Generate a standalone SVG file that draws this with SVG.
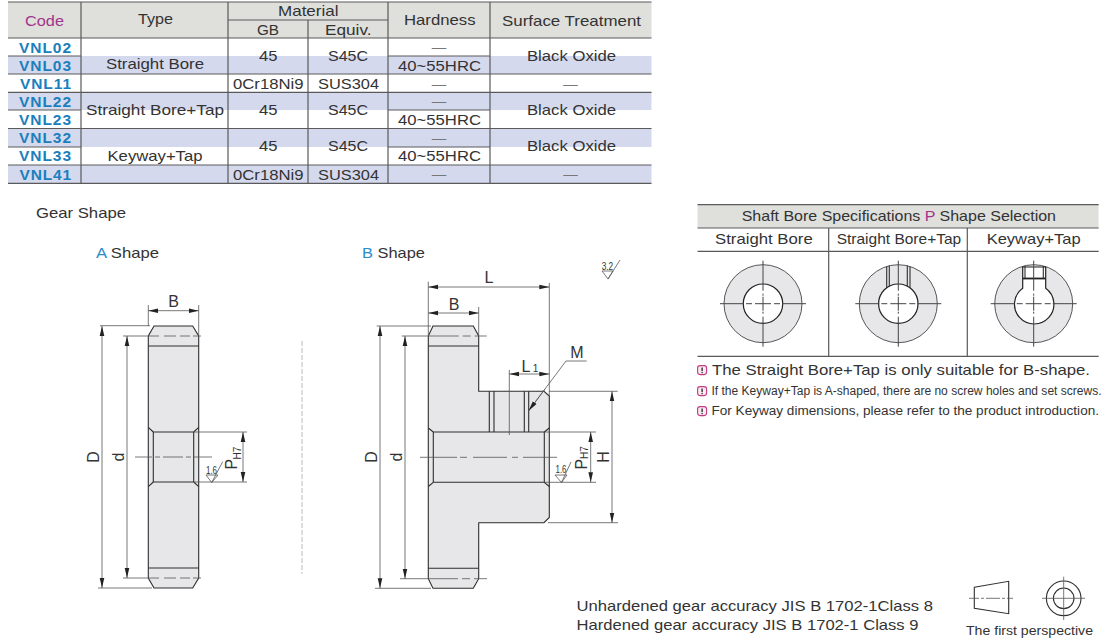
<svg xmlns="http://www.w3.org/2000/svg" xmlns:xlink="http://www.w3.org/1999/xlink" width="1110" height="640" viewBox="0 0 1110 640">
<style>
text{font-family:"Liberation Sans",Arial,sans-serif;fill:#333;font-size:14.5px}
.c{text-anchor:middle}
.code{font-weight:bold;fill:#1a80bd;font-size:15.5px}
.pur{fill:#a2348a}
.blue{fill:#2a8ccc}
.tl{stroke:#5a5a5a;stroke-width:1.2;fill:none}
.body{fill:#e7e7e9;stroke:#2e2e2e;stroke-width:1.1}
.e{stroke:#2e2e2e;stroke-width:1.1;fill:none}
.thin{stroke:#555;stroke-width:.8;fill:none}
.dim{stroke:#555;stroke-width:.8;fill:none;marker-start:url(#ar);marker-end:url(#ar)}
.dim1{stroke:#555;stroke-width:.8;fill:none;marker-end:url(#ar)}
.big{font-size:16px;fill:#333}
.small{font-size:10px;fill:#333}
.ring{fill:#e7e7e9;stroke:#444;stroke-width:.9}
.bore{fill:#fff;stroke:#222;stroke-width:1.2}
</style>
<defs>
<marker id="ar" markerUnits="userSpaceOnUse" markerWidth="11" markerHeight="6" refX="10" refY="3" orient="auto-start-reverse"><path d="M0,.7 L10,3 L0,5.300 Z" fill="#222"/></marker>
<g id="cross"><path class="thin" stroke-width="1" style="stroke:#444;stroke-width:1" d="M-43,0H-19M-17,0H-11M-8,0H8M11,0H17M19,0H43M0,-43V-13M0,-10V-8M0,-7V7M0,8V10M0,13V43"/></g>
<g id="warn"><rect x="0.6" y="0.6" width="9" height="9" rx="2.5" fill="#fbe9f2" stroke="#c23a82" stroke-width="1.1"/><path d="M5.100,2.400V6" stroke="#333" stroke-width="1.400"/><circle cx="5.100" cy="7.600" r=".8" fill="#333"/></g>
</defs>

<g id="spec-table">
<rect x="8" y="2" width="643.500" height="36" fill="#dfdfdc"/>
<g fill="#d5d9ee"><rect x="8" y="56" width="643.500" height="18"/><rect x="8" y="92" width="643.500" height="18"/><rect x="8" y="128.500" width="643.500" height="18.500"/><rect x="8" y="165" width="643.500" height="18"/></g>
<path class="tl" d="M8,2H651.500M228,20H388M8,38H651.500M8,56H81M388,56H490M8,74H651.500M8,92.300H651.500M8,110H81M388,110H490M8,128.500H651.500M8,147H81M388,147H490M8,165H651.500M8,183.300H651.500M81,2V183M228,2V183M308,20V183M388,2V183M490,2V183"/>
<text x="25" y="26" class="pur" textLength="39" lengthAdjust="spacingAndGlyphs">Code</text>
<text x="138" y="24" textLength="35" lengthAdjust="spacingAndGlyphs">Type</text>
<text x="278" y="16" textLength="60.500" lengthAdjust="spacingAndGlyphs">Material</text>
<text x="257" y="34.500" textLength="22" lengthAdjust="spacingAndGlyphs">GB</text>
<text x="325" y="34.500" textLength="46.500" lengthAdjust="spacingAndGlyphs">Equiv.</text>
<text x="404" y="25" textLength="71.500" lengthAdjust="spacingAndGlyphs">Hardness</text>
<text x="502" y="26" textLength="139" lengthAdjust="spacingAndGlyphs">Surface Treatment</text>
<text x="19" y="52.500" class="code" textLength="52">VNL02</text><text x="19" y="70.700" class="code" textLength="52">VNL03</text><text x="20" y="89" class="code" textLength="51">VNL11</text><text x="19" y="106.700" class="code" textLength="52">VNL22</text><text x="19" y="125" class="code" textLength="52">VNL23</text><text x="19" y="142.700" class="code" textLength="52">VNL32</text><text x="19" y="161" class="code" textLength="52">VNL33</text><text x="19.500" y="179.500" class="code" textLength="51.500">VNL41</text>
<text x="106" y="69.300" textLength="98" lengthAdjust="spacingAndGlyphs">Straight Bore</text>
<text x="86" y="115" textLength="138" lengthAdjust="spacingAndGlyphs">Straight Bore+Tap</text>
<text x="107.500" y="160.700" textLength="95" lengthAdjust="spacingAndGlyphs">Keyway+Tap</text>
<text x="259" y="61" textLength="18.500" lengthAdjust="spacingAndGlyphs">45</text><text x="259" y="115" textLength="18.500" lengthAdjust="spacingAndGlyphs">45</text><text x="259" y="151" textLength="18.500" lengthAdjust="spacingAndGlyphs">45</text>
<text x="233" y="89.300" textLength="70.500" lengthAdjust="spacingAndGlyphs">0Cr18Ni9</text><text x="233" y="180" textLength="70.500" lengthAdjust="spacingAndGlyphs">0Cr18Ni9</text>
<text x="328" y="61" textLength="40" lengthAdjust="spacingAndGlyphs">S45C</text><text x="328" y="115" textLength="40" lengthAdjust="spacingAndGlyphs">S45C</text><text x="328" y="151" textLength="40" lengthAdjust="spacingAndGlyphs">S45C</text>
<text x="318" y="89.300" textLength="61" lengthAdjust="spacingAndGlyphs">SUS304</text><text x="318" y="180" textLength="61" lengthAdjust="spacingAndGlyphs">SUS304</text>
<text x="439" y="51.500" class="c" style="fill:#777">—</text><text x="439" y="88.500" class="c" style="fill:#777">—</text><text x="439" y="106" class="c" style="fill:#777">—</text><text x="439" y="142.500" class="c" style="fill:#777">—</text><text x="439" y="179" class="c" style="fill:#777">—</text>
<text x="570.500" y="88.500" class="c" style="fill:#777">—</text><text x="570.500" y="179" class="c" style="fill:#777">—</text>
<text x="398" y="71" textLength="83" lengthAdjust="spacingAndGlyphs">40~55HRC</text><text x="398" y="124.700" textLength="83" lengthAdjust="spacingAndGlyphs">40~55HRC</text><text x="398" y="161" textLength="83" lengthAdjust="spacingAndGlyphs">40~55HRC</text>
<text x="527" y="61" textLength="89" lengthAdjust="spacingAndGlyphs">Black Oxide</text><text x="527" y="115" textLength="89" lengthAdjust="spacingAndGlyphs">Black Oxide</text><text x="527" y="151" textLength="89" lengthAdjust="spacingAndGlyphs">Black Oxide</text>
</g>

<text id="gear-shape-title" x="36" y="218" textLength="90" lengthAdjust="spacingAndGlyphs">Gear Shape</text>
<text id="a-title" x="96" y="258" textLength="63" lengthAdjust="spacingAndGlyphs"><tspan class="blue">A</tspan> Shape</text>
<text id="b-title" x="362" y="258" textLength="63" lengthAdjust="spacingAndGlyphs"><tspan class="blue">B</tspan> Shape</text>
<path id="divider" d="M302,341V574" stroke="#aaa" stroke-width=".8" stroke-dasharray="5 2" fill="none"/>

<g id="gear-a">
<path class="body" d="M154,326H192.700L198.700,336V578L192.700,588H154L148.300,578V336Z"/>
<path class="e" d="M148.300,346H198.700M148.300,568H198.700M153.300,432H193.700V482H153.300ZM148.300,427.300L153.300,432M198.700,427.300L193.700,432M148.300,486.700L153.300,482M198.700,486.700L193.700,482"/>
<path class="thin" d="M135,457H212" stroke-dasharray="17 3 5 3 20 3 5 3 18"/>
<path class="thin" d="M123,336H201" stroke-dasharray="36 5 12 4 10 3 8"/>
<path class="thin" d="M123,578H201" stroke-dasharray="36 5 12 4 10 3 8"/>
<path class="thin" d="M100,325.700H150M98,588H152M148.300,305V326M198.700,305V336M194,432H247M194,482H247M206,475H218L211.700,482.500L206,475M211.700,482.500L222.700,461.700"/>
<line class="dim" x1="102" y1="326" x2="102" y2="588"/>
<line class="dim" x1="127" y1="336" x2="127" y2="578"/>
<line class="dim" x1="148.300" y1="310.700" x2="198.700" y2="310.700"/>
<line class="dim" x1="243" y1="432" x2="243" y2="482"/>
<text x="173.500" y="307" class="big pur c">B</text>
<text transform="translate(99,457) rotate(-90)" class="big c">D</text>
<text transform="translate(124,457) rotate(-90)" class="big c">d</text>
<text transform="translate(237,469.500) rotate(-90)" class="big pur">P</text>
<text transform="translate(240.500,459.500) rotate(-90)" class="small">H7</text>
<text x="206" y="473.500" class="small" textLength="11" lengthAdjust="spacingAndGlyphs">1.6</text>
</g>

<g id="gear-b">
<path class="body" d="M433,326H473.300L478.700,336V391.300H544L549.300,396V517.500L544,522.700H478.700V578.700L473.300,588.300H433L428.300,578.700V336Z"/>
<path class="e" d="M428.300,346H478.700M428.300,568.300H478.700M433.300,432H544.300V482.300H433.300ZM428.300,428L433.300,432M549.300,428L544.300,432M428.300,486.500L433.300,482.300M549.300,486.500L544.300,482.300M489.300,391.300V432M494,391.300V432M524.300,391.300V432M528.700,391.300V432"/>
<path class="thin" d="M509.300,370V435"/>
<path class="thin" d="M420,457.300H557.300" stroke-dasharray="37 3 7 6 34 5 6 5 34"/>
<path class="thin" d="M401.700,336H487" stroke-dasharray="57 4 8 4 12"/>
<path class="thin" d="M400,578.700H487" stroke-dasharray="58 4 8 4 13"/>
<path class="thin" d="M376.700,326H431M375,588.300H431M428.300,281.700V336M549.300,283V396M478.700,307V336M549,391.300H617.700M548,522.700H618M545,432H596M545,482.300H596M586.700,361H566L528.700,410.700M555,475H567L561.500,482.500L555,475M561.500,482.500L571,462M602,271H613L608,279L602,271M608,279L620,260"/>
<line class="dim" x1="380" y1="326" x2="380" y2="588.300"/>
<line class="dim" x1="405" y1="336" x2="405" y2="578.700"/>
<line class="dim" x1="428.300" y1="287" x2="549.300" y2="287"/>
<line class="dim" x1="428.300" y1="313" x2="478.700" y2="313"/>
<line class="dim" x1="509.300" y1="374" x2="549.300" y2="374"/>
<line class="dim" x1="612" y1="391.300" x2="612" y2="522.700"/>
<line class="dim" x1="590.700" y1="432" x2="590.700" y2="482.300"/>
<line class="dim1" x1="545" y1="389" x2="528.700" y2="410.700"/>
<text x="489" y="283" class="big c">L</text>
<text x="454" y="310" class="big pur c">B</text>
<text x="526" y="372" class="big c">L</text>
<text x="535.500" y="372" class="small c">1</text>
<text x="577" y="358" class="big c">M</text>
<text transform="translate(376.500,457) rotate(-90)" class="big c">D</text>
<text transform="translate(402,457) rotate(-90)" class="big c">d</text>
<text transform="translate(609,457) rotate(-90)" class="big c">H</text>
<text transform="translate(586.700,469.500) rotate(-90)" class="big pur">P</text>
<text transform="translate(588,459) rotate(-90)" class="small">H7</text>
<text x="555.500" y="473.300" class="small" textLength="11" lengthAdjust="spacingAndGlyphs">1.6</text>
<text x="601.700" y="269.500" class="small" textLength="11.500" lengthAdjust="spacingAndGlyphs">3.2</text>
</g>

<g id="bore-table">
<rect x="697.500" y="205" width="401" height="23" fill="#dfdfdc"/>
<path class="tl" d="M697.500,204.700H1098.700M697.500,228H1098.700M697.500,251.300H1098.700M697.500,356.300H1098.700M828.700,228V356.300M967.300,228V356.300"/>
<text x="741.700" y="220.700" textLength="314.300" lengthAdjust="spacingAndGlyphs">Shaft Bore Specifications <tspan class="pur">P</tspan> Shape Selection</text>
<text x="715" y="244" textLength="97.700" lengthAdjust="spacingAndGlyphs">Straight Bore</text>
<text x="836.700" y="244" textLength="124.500" lengthAdjust="spacingAndGlyphs">Straight Bore+Tap</text>
<text x="986.700" y="244" textLength="94" lengthAdjust="spacingAndGlyphs">Keyway+Tap</text>

<g id="bore-straight">
<circle class="ring" cx="763" cy="303.700" r="39"/><circle class="bore" cx="763" cy="303.700" r="19.700"/>
<use xlink:href="#cross" href="#cross" x="763" y="303.700"/>
</g>
<g id="bore-tap">
<circle class="ring" cx="898.300" cy="303.700" r="39"/><circle class="bore" cx="898.300" cy="303.700" r="19.700"/>
<path class="e" d="M886.700,266.500V288M910,266.500V288M889.300,265.500V286.500M907.300,265.500V286.500"/>
<use xlink:href="#cross" href="#cross" x="898.300" y="303.700"/>
</g>
<g id="bore-keyway">
<circle class="ring" cx="1033.700" cy="303.700" r="39"/>
<path d="M1022.700,288.300V267H1045.700V288.300A19.700,19.700 0 1 1 1022.700,288.300Z" class="bore"/>
<path class="e" d="M1025,266V278.300M1043.300,266V278.300"/>
<path d="M1022.700,278.500H1045.700" stroke="#222" stroke-width="1.800"/>
<use xlink:href="#cross" href="#cross" x="1033.700" y="303.700"/>
</g>
</g>

<g id="notes">
<use xlink:href="#warn" href="#warn" x="697" y="365"/><use xlink:href="#warn" href="#warn" x="697" y="386"/><use xlink:href="#warn" href="#warn" x="697" y="406"/>
<text x="712" y="374.700" textLength="378" lengthAdjust="spacingAndGlyphs" style="font-size:15px">The Straight Bore+Tap is only suitable for B-shape.</text>
<text x="711.500" y="395" textLength="390" lengthAdjust="spacingAndGlyphs" style="font-size:12px">If the Keyway+Tap is A-shaped, there are no screw holes and set screws.</text>
<text x="711.500" y="415" textLength="387.500" lengthAdjust="spacingAndGlyphs" style="font-size:12.500px">For Keyway dimensions, please refer to the product introduction.</text>
</g>

<g id="accuracy">
<text x="576.500" y="610.500" textLength="356.500" lengthAdjust="spacingAndGlyphs" style="font-size:15px">Unhardened gear accuracy JIS B 1702-1Class 8</text>
<text x="576.500" y="630" textLength="342" lengthAdjust="spacingAndGlyphs" style="font-size:15px">Hardened gear accuracy JIS B 1702-1 Class 9</text>
</g>

<g id="projection">
<path class="e" d="M974.300,587.300L1008.700,581.300V613.700L974.300,608.300Z"/>
<path class="thin" d="M969,598.300H1013" stroke-dasharray="10 2 3 2 14 2 3 2 6"/>
<circle class="e" cx="1063.700" cy="598.300" r="17.300"/><circle class="e" cx="1063.700" cy="598.300" r="10.300"/>
<path class="thin" d="M1042,598.300H1085M1063.700,576.700V620"/>
<text x="966" y="635" textLength="127" lengthAdjust="spacingAndGlyphs" style="font-size:12.500px">The first perspective</text>
</g>
</svg>
